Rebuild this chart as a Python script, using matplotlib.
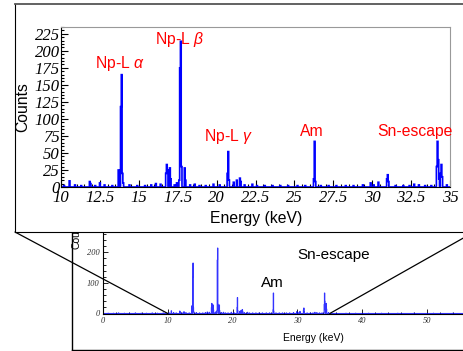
import numpy as np
import matplotlib.pyplot as plt
from matplotlib.patches import ConnectionPatch
from matplotlib.ticker import MultipleLocator

SANS = 'Liberation Sans'
SERIF = 'Liberation Serif'

# tick labels are italic serif (ROOT style); everything else sets its own font
plt.rcParams['font.family'] = SERIF
plt.rcParams['font.style'] = 'italic'
plt.rcParams['mathtext.fontset'] = 'custom'
plt.rcParams['mathtext.rm'] = 'Liberation Sans'
plt.rcParams['mathtext.it'] = 'Liberation Sans:italic'

# ------------------------------------------------------------
# Spectrum (bin centre in keV, counts)
# ------------------------------------------------------------

peak_energy = [10.55, 11.85, 11.90, 12.50, 13.70, 13.75, 13.85, 13.90, 13.95, 14.00,
               16.10, 16.75, 16.80, 16.85, 17.00, 17.05, 17.45, 17.60, 17.65, 17.70,
               17.75, 17.95, 18.00, 18.60, 19.80, 20.70, 20.75, 20.80, 21.10, 21.30,
               21.50, 21.55, 22.30, 26.25, 26.30, 26.35, 29.90, 30.40, 30.95, 31.00,
               31.05, 32.70, 34.15, 34.20, 34.25, 34.30, 34.40, 34.45, 34.50]
peak_counts = [9, 8, 5, 6, 25, 10, 118, 165, 20, 6,
               5, 20, 33, 25, 28, 12, 6, 10, 175, 214,
               30, 28, 10, 4, 4, 20, 52, 10, 7, 10,
               13, 8, 4, 12, 67, 8, 6, 7, 12, 18,
               8, 4, 30, 67, 40, 12, 20, 33, 15]

bkg_energy = [0.8, 1.6, 2.4, 3.3, 4.1, 5.0, 5.9, 6.7, 7.6, 8.4, 9.3, 10.2,
              10.9, 11.3, 12.2, 12.8, 13.3, 14.4, 14.9, 15.4, 15.8, 16.4,
              17.3, 18.3, 18.9, 19.3, 20.2, 21.8, 22.6, 23.1, 23.6, 24.1,
              24.6, 25.2, 25.7, 26.7, 27.2, 27.7, 28.3, 28.8, 29.4, 30.1,
              31.5, 32.0, 32.4, 33.0, 33.4, 33.8, 34.8, 36.0, 37.5, 39.0,
              41.0, 43.0, 45.5, 48.0, 51.0, 54.0]
bkg_counts = [1, 1, 2, 1, 1, 2, 1, 1, 2, 1, 2, 2,
              3, 2, 2, 3, 2, 3, 2, 2, 3, 4,
              3, 3, 2, 2, 3, 3, 2, 2, 2, 2,
              2, 2, 2, 2, 2, 2, 2, 2, 3, 3,
              2, 2, 2, 3, 2, 2, 3, 1, 1, 1,
              1, 1, 1, 1, 1, 1]

line_labels = ["Np-L $\\alpha$", "Np-L $\\beta$", "Np-L $\\gamma$", "Am", "Sn-escape"]
label_energy = [13.76, 17.65, 20.80, 26.10, 32.72]
label_counts = [182, 217, 74, 82, 82]

energy_all = peak_energy + bkg_energy
counts_all = peak_counts + bkg_counts
bin_edges = np.arange(-0.025, 60.0, 0.05)

W, H = 463, 351


def fig_box(left, top, right, bottom):
    # pixel box (origin top-left) -> figure fraction rect
    return [left / W, 1 - bottom / H, (right - left) / W, (bottom - top) / H]


sans = dict(fontfamily=SANS, fontstyle='normal')

fig = plt.figure(figsize=(W / 100, H / 100), dpi=100)

# ------------------------------------------------------------
# Full-range spectrum (lower, partly covered)
# ------------------------------------------------------------

ax_frame = fig.add_axes(fig_box(72, 226, 480, 350), zorder=0)
ax_frame.set_xticks([])
ax_frame.set_yticks([])
for s in ax_frame.spines.values():
    s.set_color('black')
    s.set_linewidth(1.0)

ax_bot = fig.add_axes(fig_box(103, 230.9, 491.8, 313.5), zorder=1)
ax_bot.patch.set_alpha(0)
ax_bot.hist(energy_all, bins=bin_edges, weights=counts_all, histtype='step',
            color='#0000ff', lw=0.8, alpha=0.8)
ax_bot.set_xlim(0, 60)
ax_bot.set_ylim(0, 270)
ax_bot.spines['top'].set_visible(False)
ax_bot.spines['right'].set_visible(False)
ax_bot.spines['left'].set_linewidth(0.8)
ax_bot.spines['bottom'].set_linewidth(0.8)
ax_bot.set_xticks([0, 10, 20, 30, 40, 50])
ax_bot.xaxis.set_minor_locator(MultipleLocator(2))
ax_bot.yaxis.set_major_locator(MultipleLocator(100))
ax_bot.yaxis.set_minor_locator(MultipleLocator(20))
ax_bot.tick_params(which='both', direction='in', width=0.6, pad=2.5,
                   labelsize=6, labelcolor='#333333')
ax_bot.tick_params(which='major', length=3.5)
ax_bot.tick_params(which='minor', length=1.8)
ax_bot.set_xlabel("Energy (keV)", fontsize=7.5, **sans)
ax_bot.xaxis.set_label_coords((313 - 103) / 388.8, (313.5 - 338) / 82.6)
ax_bot.xaxis.label.set_va('center')
ax_bot.set_ylabel("Counts", fontsize=7.5, **sans)
ax_bot.yaxis.set_label_coords((76.5 - 103) / 388.8, (313.5 - 233) / 82.6)
ax_bot.yaxis.label.set_va('center')
ax_bot.text(26.2, 101, "Am", fontsize=11, ha='center', va='center', **sans)
ax_bot.text(35.6, 192, "Sn-escape", fontsize=11, ha='center', va='center', **sans)

# zoom lines from the inset corners to 10 and 35 keV
for corner, e in [((15, 232), 10), ((474, 232), 35)]:
    con = ConnectionPatch(xyA=(corner[0] / W, 1 - corner[1] / H), coordsA=fig.transFigure,
                          xyB=(e, 0), coordsB=ax_bot.transData,
                          color='black', lw=0.9, zorder=1.5)
    fig.add_artist(con)

# ------------------------------------------------------------
# Zoomed spectrum 10-35 keV (inset)
# ------------------------------------------------------------

ax_box = fig.add_axes(fig_box(15, 4, 474, 232), zorder=2)
ax_box.set_xticks([])
ax_box.set_yticks([])
ax_box.spines['top'].set_color('#555555')
ax_box.spines['top'].set_linewidth(1.3)
ax_box.spines['left'].set_color('black')
ax_box.spines['bottom'].set_color('black')

ax = fig.add_axes(fig_box(61, 27, 450, 187), zorder=3)
ax.hist(energy_all, bins=bin_edges, weights=counts_all, histtype='step',
        color='#0000ff', lw=1.2)
ax.set_xlim(10, 35)
ax.set_ylim(0, 235)
ax.spines['top'].set_color('#999999')
ax.spines['right'].set_color('#999999')
ax.set_xticks([10, 12.5, 15, 17.5, 20, 22.5, 25, 27.5, 30, 32.5, 35])
ax.set_xticklabels(["10", "12.5", "15", "17.5", "20", "22.5", "25", "27.5", "30", "32.5", "35"])
ax.xaxis.set_minor_locator(MultipleLocator(0.5))
ax.yaxis.set_major_locator(MultipleLocator(25))
ax.yaxis.set_minor_locator(MultipleLocator(5))
ax.tick_params(which='both', direction='in', top=False, right=False, width=0.8,
               labelsize=12)
ax.tick_params(which='major', length=5)
ax.tick_params(which='minor', length=2.5)
ax.tick_params(axis='y', pad=1)
ax.tick_params(axis='x', pad=2)

ax.set_xlabel("Energy (keV)", fontsize=11.3, **sans)
ax.xaxis.set_label_coords((256 - 61) / 389, (187 - 219) / 160)
ax.xaxis.label.set_va('center')
ax.set_ylabel("Counts", fontsize=11.3, **sans)
ax.yaxis.set_label_coords((23 - 61) / 389, (187 - 107) / 160)
ax.yaxis.label.set_va('center')

for text, e, c in zip(line_labels, label_energy, label_counts):
    ax.text(e, c, text, color='#ff0000', fontsize=11.3,
            ha='center', va='center', **sans)

fig.savefig("out.png", dpi=100)
